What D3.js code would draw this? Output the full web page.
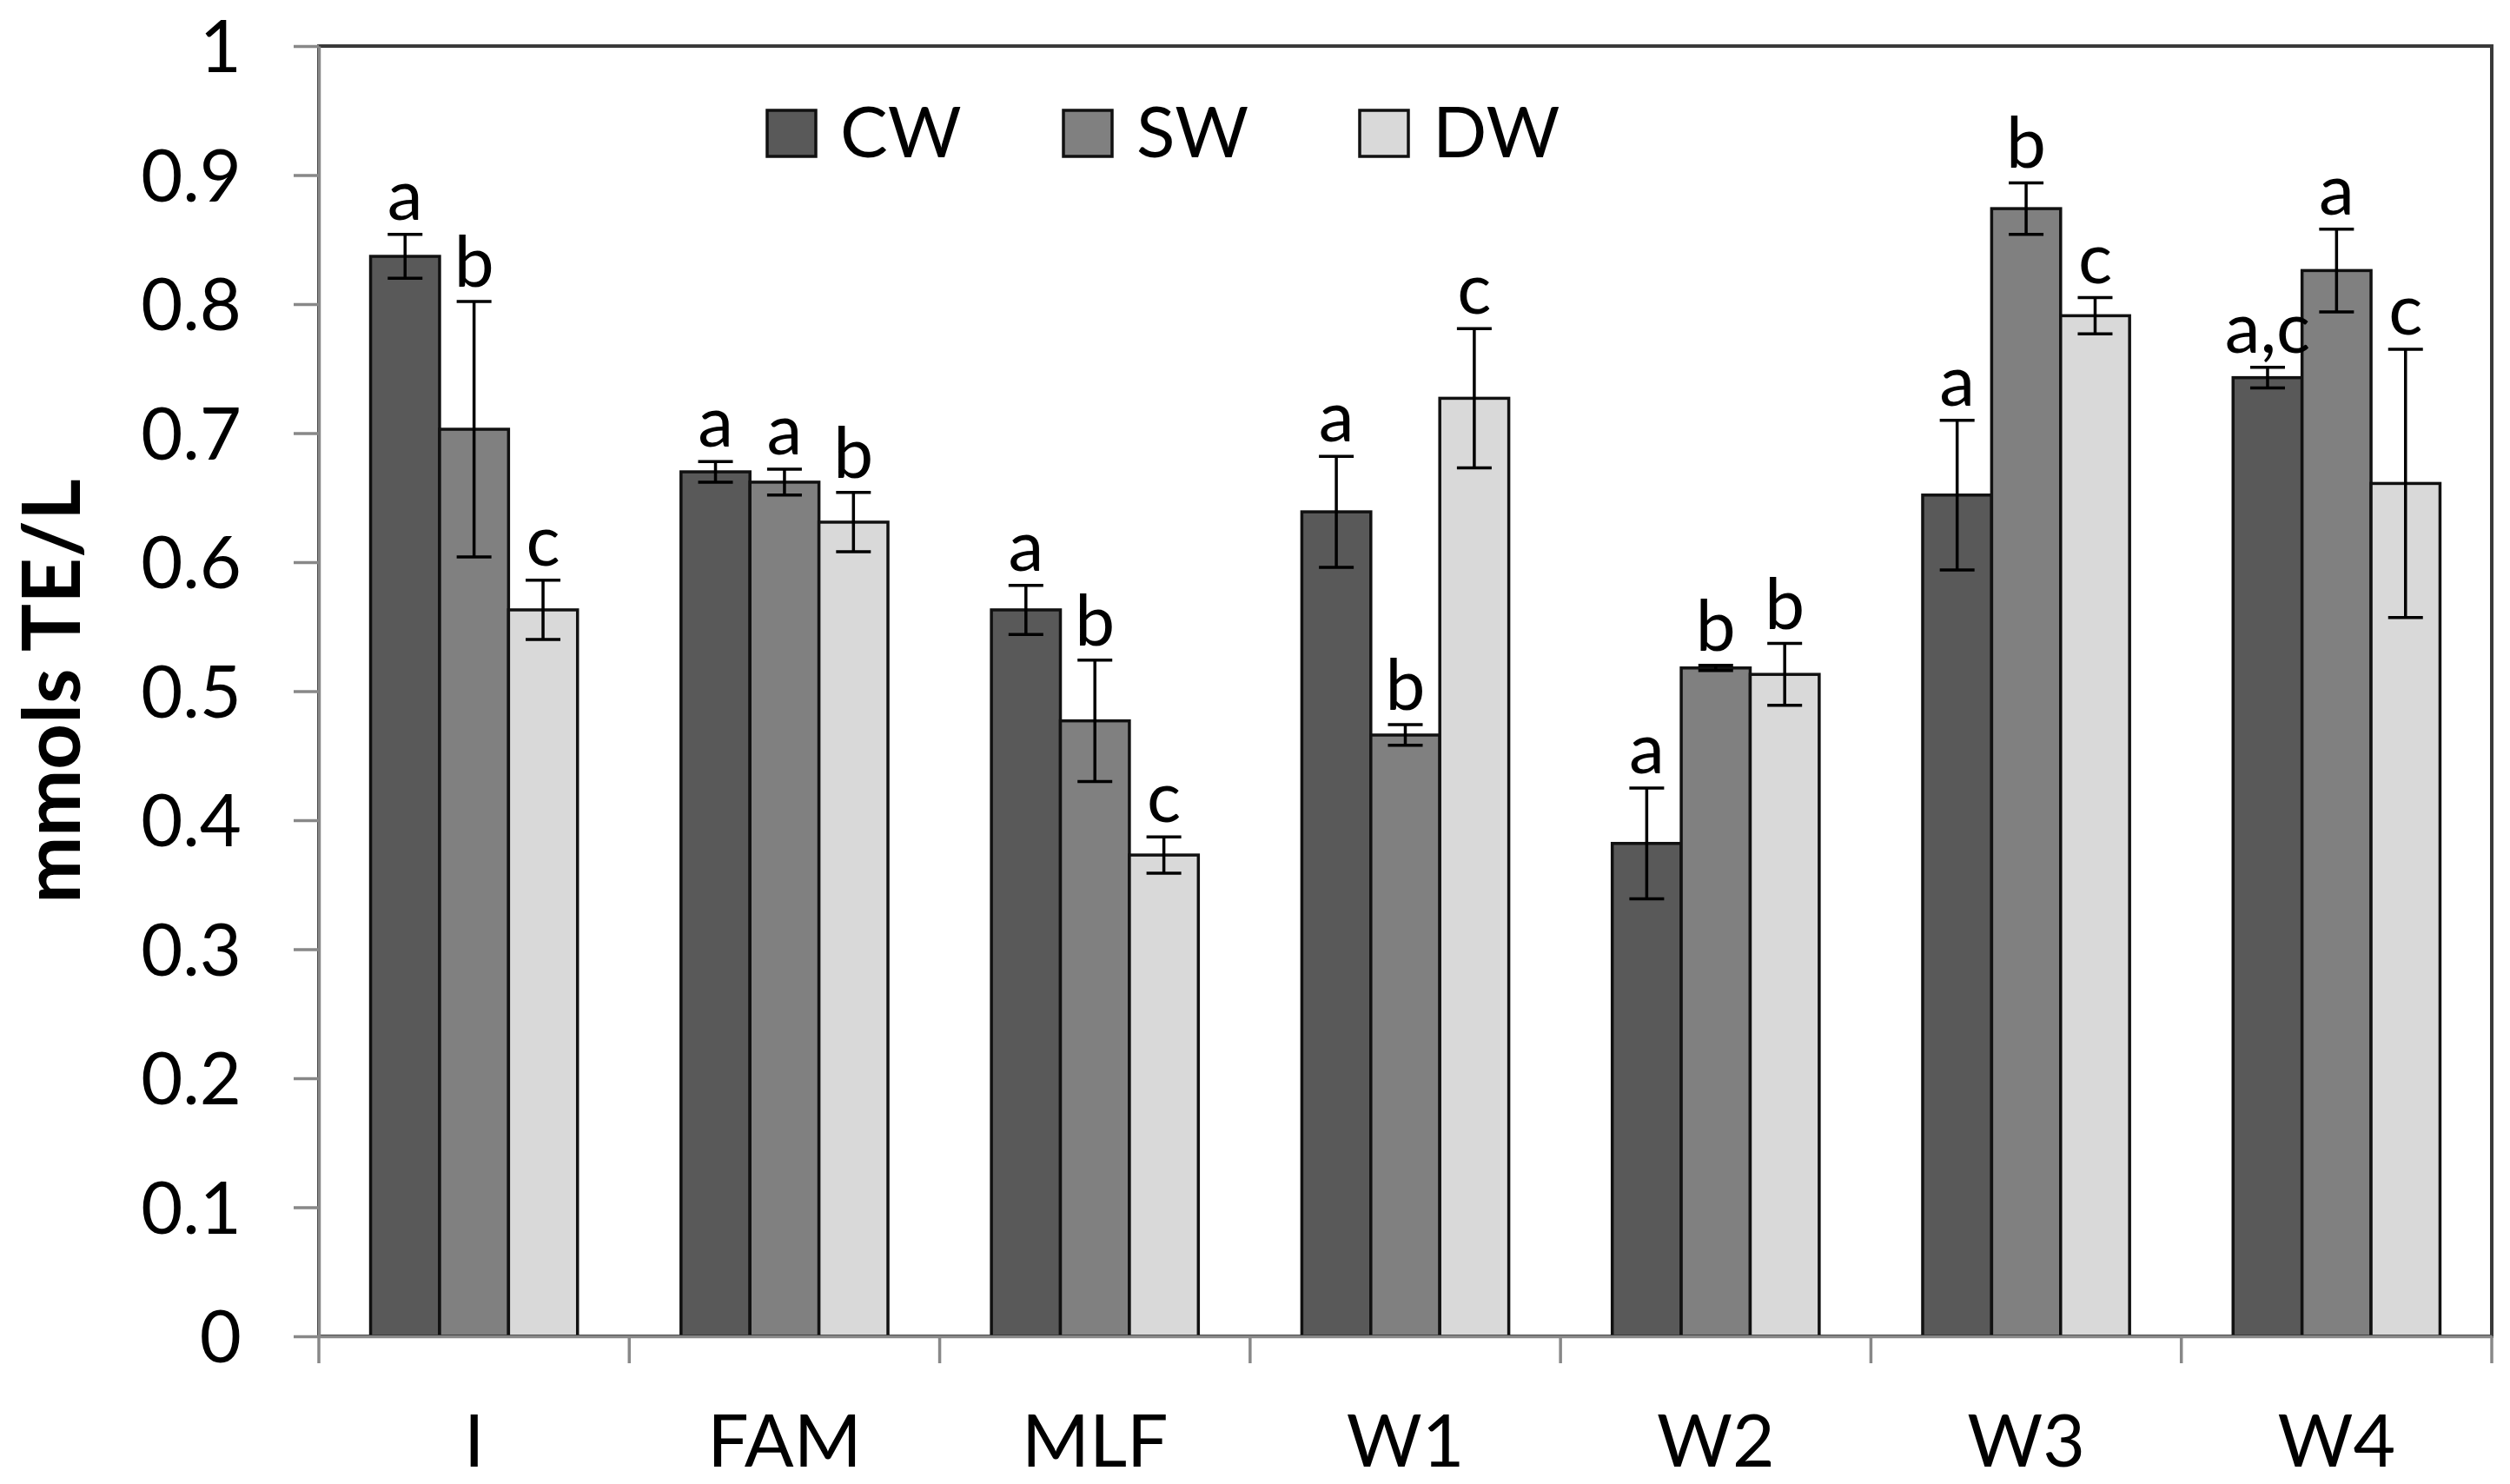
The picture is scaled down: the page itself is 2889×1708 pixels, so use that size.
<!DOCTYPE html>
<meta charset="utf-8">
<script src="https://d3js.org/d3.v7.min.js"></script>
<style>
body { margin: 0; background: #fff; }
text { font-family: Lato, "Open Sans", sans-serif; fill: #000; }
</style>

<div id="chart"></div>

<script>

// data
var categories = ["I", "FAM", "MLF", "W1", "W2", "W3", "W4"];
var series = ["CW", "SW", "DW"];
var seriesColors = ["#595959", "#808080", "#d9d9d9"];

var cwValues = [0.837, 0.670, 0.563, 0.639, 0.382, 0.652, 0.743];
var swValues = [0.703, 0.662, 0.477, 0.466, 0.518, 0.874, 0.826];
var dwValues = [0.563, 0.631, 0.373, 0.727, 0.513, 0.791, 0.661];

var cwErrors = [0.017, 0.008, 0.019, 0.043, 0.043, 0.058, 0.008];
var swErrors = [0.099, 0.010, 0.047, 0.008, 0.002, 0.020, 0.032];
var dwErrors = [0.023, 0.023, 0.014, 0.054, 0.024, 0.014, 0.104];

var cwLetters = ["a", "a", "a", "a", "a", "a", "a,c"];
var swLetters = ["b", "a", "b", "b", "b", "b", "a"];
var dwLetters = ["c", "b", "c", "c", "b", "c", "c"];

var yTicks = [0, 0.1, 0.2, 0.3, 0.4, 0.5, 0.6, 0.7, 0.8, 0.9, 1];
var yTickLabels = ["0", "0.1", "0.2", "0.3", "0.4", "0.5", "0.6", "0.7", "0.8", "0.9", "1"];
var yTitle = "mmols TE/L";

var W = 2889, H = 1708;
var plot = {left: 367, right: 2868, top: 53, bottom: 1538};

var svg = d3.select("#chart")
  .append("svg")
    .attr("width", W)
    .attr("height", H);

var x0 = d3.scaleBand()
  .domain(categories)
  .range([plot.left, plot.right]);

// excel style gap width 150%
var x1 = d3.scaleBand()
  .domain(series)
  .range([0, x0.bandwidth()])
  .paddingInner(0)
  .paddingOuter(0.75);

var y = d3.scaleLinear()
  .domain([0, 1])
  .range([plot.bottom, plot.top]);

var valueSets = [cwValues, swValues, dwValues];
var errorSets = [cwErrors, swErrors, dwErrors];
var letterSets = [cwLetters, swLetters, dwLetters];

var bars = [];
categories.forEach(function(c, i) {
  series.forEach(function(s, j) {
    bars.push({cat: c, ser: s, color: seriesColors[j],
               v: valueSets[j][i], e: errorSets[j][i], letter: letterSets[j][i]});
  });
});

// plot area border (dark box)
svg.append("rect")
  .attr("x", plot.left)
  .attr("y", plot.top)
  .attr("width", plot.right - plot.left)
  .attr("height", plot.bottom - plot.top)
  .attr("fill", "none")
  .attr("stroke", "#3a3a3a")
  .attr("stroke-width", 4);

// bars
svg.append("g")
  .selectAll("rect")
  .data(bars)
  .enter()
  .append("rect")
    .attr("x", function(d) { return x0(d.cat) + x1(d.ser); })
    .attr("y", function(d) { return y(d.v); })
    .attr("width", x1.bandwidth())
    .attr("height", function(d) { return y(0) - y(d.v); })
    .attr("fill", function(d) { return d.color; })
    .attr("stroke", "#111")
    .attr("stroke-width", 3.5);

// error bars
var cap = 20;
var eb = svg.append("g")
  .attr("stroke", "#000")
  .attr("stroke-width", 3.5)
  .selectAll("g")
  .data(bars)
  .enter()
  .append("g")
    .attr("transform", function(d) { return "translate(" + (x0(d.cat) + x1(d.ser) + x1.bandwidth() / 2) + ",0)"; });

eb.append("line")
  .attr("y1", function(d) { return y(d.v - d.e); })
  .attr("y2", function(d) { return y(d.v + d.e); });
eb.append("line")
  .attr("x1", -cap).attr("x2", cap)
  .attr("y1", function(d) { return y(d.v + d.e); })
  .attr("y2", function(d) { return y(d.v + d.e); });
eb.append("line")
  .attr("x1", -cap).attr("x2", cap)
  .attr("y1", function(d) { return y(d.v - d.e); })
  .attr("y2", function(d) { return y(d.v - d.e); });

// significance letters
svg.append("g")
  .selectAll("text")
  .data(bars)
  .enter()
  .append("text")
    .attr("x", function(d) { return x0(d.cat) + x1(d.ser) + x1.bandwidth() / 2; })
    .attr("y", function(d) { return y(d.v + d.e) - 17; })
    .attr("text-anchor", "middle")
    .style("font-size", "82px")
    .text(function(d) { return d.letter; });

// y axis
var yAxis = svg.append("g")
  .attr("transform", "translate(" + plot.left + ",0)")
  .call(d3.axisLeft(y)
    .tickValues(yTicks)
    .tickFormat(function(d, i) { return yTickLabels[i]; })
    .tickSize(29)
    .tickSizeOuter(0)
    .tickPadding(60));
yAxis.selectAll("path, line").attr("stroke", "#888").attr("stroke-width", 3.5);
yAxis.selectAll("text")
  .style("font-size", "83px")
  .style("font-family", "Lato")
  .attr("dy", "0.36em");

// x axis: labels at centres, ticks at category boundaries
var xAxis = svg.append("g")
  .attr("transform", "translate(0," + plot.bottom + ")")
  .call(d3.axisBottom(x0).tickSize(0).tickSizeOuter(0));
xAxis.select(".domain").attr("stroke", "#888").attr("stroke-width", 3.5);
xAxis.selectAll("text")
  .style("font-size", "84px")
  .style("font-family", "Lato")
  .attr("y", 150)
  .attr("dy", 0);

var bounds = categories.map(function(c) { return x0(c); }).concat([plot.right]);
xAxis.selectAll(".bound")
  .data(bounds)
  .enter()
  .append("line")
    .attr("class", "bound")
    .attr("x1", function(d) { return d; })
    .attr("x2", function(d) { return d; })
    .attr("y1", 0)
    .attr("y2", 31)
    .attr("stroke", "#888")
    .attr("stroke-width", 3.5);

// y title
svg.append("text")
  .attr("transform", "translate(92," + ((plot.top + plot.bottom) / 2) + ") rotate(-90)")
  .attr("text-anchor", "middle")
  .style("font-size", "92px")
  .style("font-weight", "bold")
  .text(yTitle);

// legend
var legend = svg.append("g")
  .selectAll("g")
  .data(series)
  .enter()
  .append("g")
    .attr("transform", function(d, i) { return "translate(" + (883 + i * 341) + ",0)"; });

legend.append("rect")
  .attr("x", 0)
  .attr("y", 127)
  .attr("width", 56)
  .attr("height", 53)
  .attr("fill", function(d, i) { return seriesColors[i]; })
  .attr("stroke", "#111")
  .attr("stroke-width", 3.5);

legend.append("text")
  .attr("x", 84)
  .attr("y", 181)
  .style("font-size", "82px")
  .text(function(d) { return d; });

</script>
